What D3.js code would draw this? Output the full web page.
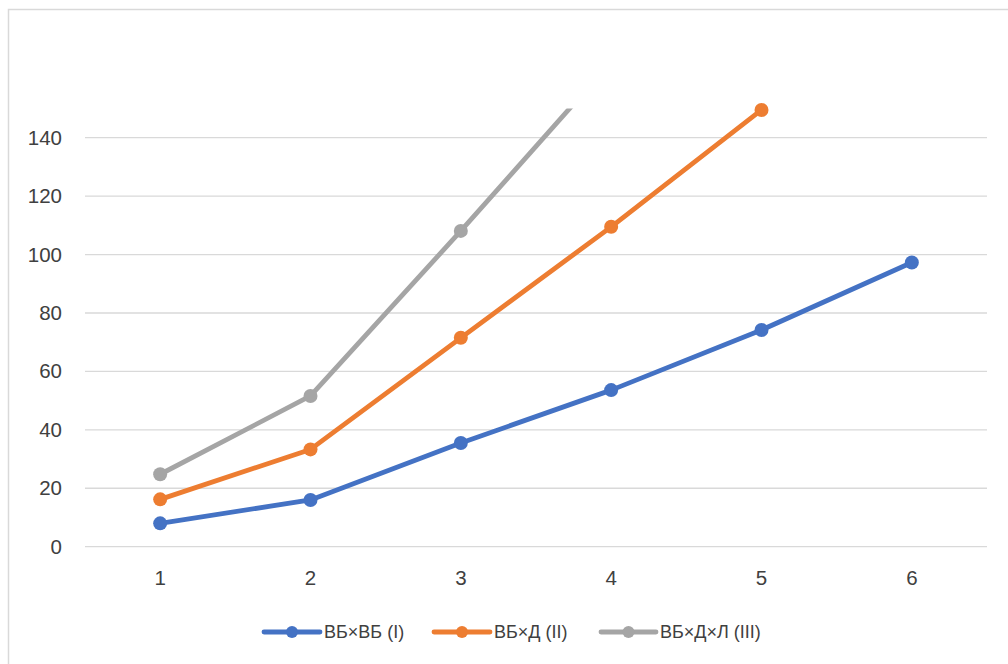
<!DOCTYPE html>
<html>
<head>
<meta charset="utf-8">
<script src="https://cdn.jsdelivr.net/npm/d3@7"></script>
<style>
  html, body { margin: 0; padding: 0; background: #fff; }
  svg { display: block; }
  text { font-family: "Liberation Sans", Arial, sans-serif; fill: #404040; }
</style>
</head>
<body>
<div id="chart"></div>
<script>
const categories = ["1", "2", "3", "4", "5", "6"];
const seriesNames = ["ВБ×ВБ (I)", "ВБ×Д (II)", "ВБ×Д×Л (III)"];
const seriesI = [8.0, 16.0, 35.5, 53.6, 74.2, 97.3];
const seriesII = [16.2, 33.3, 71.5, 109.5, 149.5];
const seriesIII = [24.8, 51.6, 108.1, 166];
const yTicks = [0, 20, 40, 60, 80, 100, 120, 140];
const seriesColors = ["#4472C4", "#ED7D31", "#A5A5A5"];

const W = 1008, H = 664;
const svg = d3.select("#chart").append("svg").attr("width", W).attr("height", H);

// outer chart border (top + left visible)
svg.append("rect").attr("x", 8.5).attr("y", 9.5).attr("width", W + 10).attr("height", H + 10)
  .attr("fill", "none").attr("stroke", "#d9d9d9").attr("stroke-width", 1.5);

const plot = { left: 85, right: 987, top: 108.5, bottom: 546.7 };
const x = d3.scaleBand().domain(categories).range([plot.left, plot.right]);
const y = d3.scaleLinear().domain([0, 150]).range([plot.bottom, plot.top]);

// gridlines
svg.append("g").selectAll("line").data(yTicks).join("line")
  .attr("x1", plot.left).attr("x2", plot.right)
  .attr("y1", d => y(d)).attr("y2", d => y(d))
  .attr("stroke", "#d9d9d9").attr("stroke-width", 1.3);

// y axis labels
const yAxis = d3.axisLeft(y).tickValues(yTicks).tickSize(0).tickPadding(0);
const gy = svg.append("g").attr("transform", `translate(62,0)`).call(yAxis);
gy.select(".domain").remove();
gy.selectAll("text").attr("font-size", 20.5).attr("fill", "#404040")
  .style("font-family", '"Liberation Sans", Arial, sans-serif');

// x axis labels
const xAxis = d3.axisBottom(x).tickSize(0).tickPadding(0);
const gx = svg.append("g").attr("transform", `translate(0,570.5)`).call(xAxis);
gx.select(".domain").remove();
gx.selectAll("text").attr("font-size", 20.5).attr("fill", "#404040")
  .style("font-family", '"Liberation Sans", Arial, sans-serif');

// clip
svg.append("defs").append("clipPath").attr("id", "plotclip").append("rect")
  .attr("x", plot.left).attr("y", plot.top).attr("width", plot.right - plot.left).attr("height", plot.bottom - plot.top + 20);

const allSeries = [seriesI, seriesII, seriesIII];
const line = d3.line().x((d, i) => x(categories[i]) + x.bandwidth() / 2).y(d => y(d));

allSeries.forEach((vals, si) => {
  svg.append("path").datum(vals).attr("d", line).attr("fill", "none")
    .attr("stroke", seriesColors[si]).attr("stroke-width", 4.8)
    .attr("stroke-linejoin", "round").attr("clip-path", "url(#plotclip)");
});
allSeries.forEach((vals, si) => {
  svg.append("g").selectAll("circle")
    .data(vals.map((v, i) => ({ v, i })).filter(d => d.v <= 150))
    .join("circle")
    .attr("cx", d => x(categories[d.i]) + x.bandwidth() / 2)
    .attr("cy", d => y(d.v))
    .attr("r", 7).attr("fill", seriesColors[si]);
});

// legend
const legendItems = [
  { x1: 264, x2: 320, tx: 324 },
  { x1: 434, x2: 490, tx: 494 },
  { x1: 601, x2: 656, tx: 660 }
];
const ly = 632;
const lg = svg.append("g");
seriesNames.forEach((name, i) => {
  const it = legendItems[i];
  lg.append("line").attr("x1", it.x1).attr("x2", it.x2).attr("y1", ly).attr("y2", ly)
    .attr("stroke", seriesColors[i]).attr("stroke-width", 4.8).attr("stroke-linecap", "round");
  lg.append("circle").attr("cx", (it.x1 + it.x2) / 2).attr("cy", ly).attr("r", 6).attr("fill", seriesColors[i]);
  lg.append("text").attr("x", it.tx).attr("y", ly).attr("dy", "0.35em")
    .attr("font-size", 18).attr("fill", "#404040").text(name);
});
</script>
</body>
</html>
